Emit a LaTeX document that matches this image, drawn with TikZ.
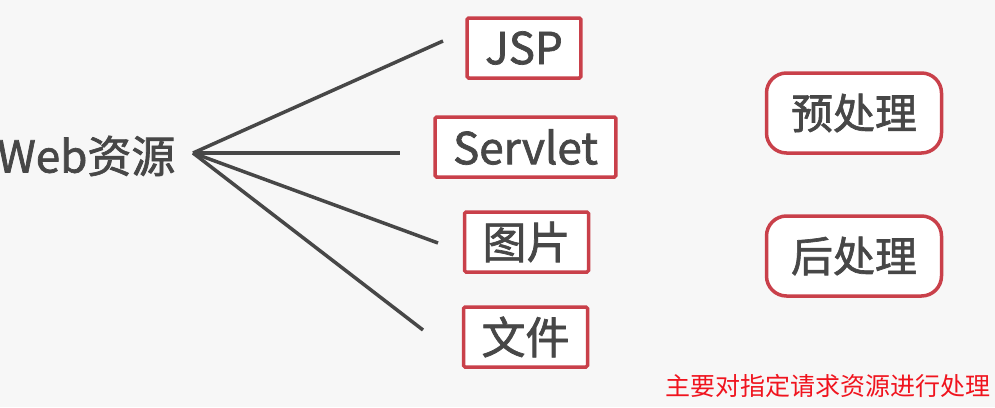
\documentclass[tikz,border=0pt]{standalone}
\usepackage{fontspec}
\newfontfamily\cjk{Noto Sans CJK SC}[FakeBold=1.6]
\newfontfamily\cjknote{Noto Sans CJK SC}
\usetikzlibrary{positioning}
\definecolor{resred}{HTML}{C9404A}
\definecolor{resgray}{HTML}{474747}
\definecolor{notered}{HTML}{F0141E}
\definecolor{paper}{HTML}{F7F7F7}

\begin{document}
\begin{tikzpicture}[x=1pt, y=-1pt,
        label/.style={font=\cjk\fontsize{44}{48}\selectfont, text=resgray, inner sep=0pt},
        box/.style={label, draw=resred, line width=3.5pt, rounded corners=1.5pt, fill=white,
            minimum height=60pt, inner xsep=18pt},
        phase/.style={label, draw=resred, line width=3.5pt, rounded corners=20pt, fill=white,
            minimum width=175pt, minimum height=80pt, font=\cjk\fontsize{42}{46}\selectfont},
        branch/.style={draw=resgray, line width=3.5pt}
    ]
      \useasboundingbox (0,0) rectangle (995,407);
      \fill[paper] (0,0) rectangle (995,407);

      % Root
      \node[label, anchor=west] (web) at (-3,156) {Web资源};
      \coordinate (hub) at (193,153);

      % Resources
      \node[box] (jsp) at (524,48) {JSP};
      \node[box] (servlet) at (525.5,147) {Servlet};
      \node[box] (image) at (526.5,242) {图片};
      \node[box] (file) at (525.5,337) {文件};

      % Branch ends
      \coordinate (tojsp) at (443,41);
      \coordinate (toservlet) at (400,153);
      \coordinate (toimage) at (438,243);
      \coordinate (tofile) at (423,330);

      \draw[branch] (hub) -- (tojsp);
      \draw[branch] (hub) -- (toservlet);
      \draw[branch] (hub) -- (toimage);
      \draw[branch] (hub) -- (tofile);

      % Processing
      \node[phase] (pre) at (854,113) {预处理};
      \node[phase] (post) at (854,256) {后处理};

      \node[font=\cjknote\fontsize{25}{28}\selectfont, text=notered, inner sep=0pt] (note) at (828,386) {主要对指定请求资源进行处理};
\end{tikzpicture}
\end{document}
